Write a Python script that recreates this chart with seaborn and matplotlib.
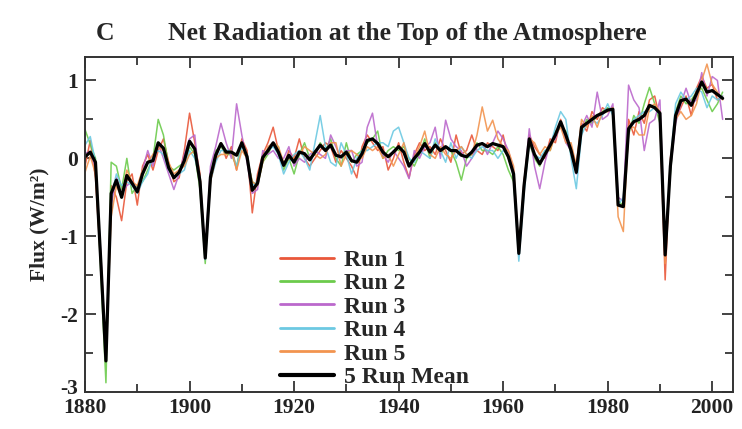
import matplotlib
matplotlib.use("Agg")
import matplotlib.pyplot as plt
from matplotlib.lines import Line2D
from matplotlib.ticker import MultipleLocator
from matplotlib.transforms import ScaledTranslation
import pandas as pd
import seaborn as sns

years = list(range(1880, 2003))

mean_flux = [
    0.02, 0.08, -0.05, -1.30, -2.60, -0.45, -0.28, -0.50, -0.22, -0.32,
    -0.43, -0.20, -0.05, -0.03, 0.20, 0.13, -0.12, -0.25, -0.18, -0.03,
    0.22, 0.12, -0.30, -1.28, -0.24, 0.04, 0.19, 0.08, 0.08, 0.04,
    0.20, 0.02, -0.41, -0.32, 0.01, 0.10, 0.20, 0.08, -0.09, 0.04,
    -0.05, 0.08, 0.06, -0.02, 0.08, 0.17, 0.10, 0.17, 0.04, 0.02,
    0.08, -0.03, -0.05, 0.06, 0.23, 0.25, 0.19, 0.08, 0.02, 0.08,
    0.15, 0.08, -0.10, 0.00, 0.08, 0.19, 0.08, 0.17, 0.10, 0.15,
    0.10, 0.10, 0.04, 0.02, 0.08, 0.17, 0.19, 0.15, 0.19, 0.17,
    0.15, 0.02, -0.20, -1.22, -0.35, 0.25, 0.05, -0.07, 0.05, 0.17,
    0.30, 0.47, 0.30, 0.10, -0.18, 0.40, 0.45, 0.50, 0.55, 0.58,
    0.62, 0.63, -0.60, -0.62, 0.38, 0.47, 0.50, 0.55, 0.68, 0.65,
    0.58, -1.24, -0.10, 0.55, 0.74, 0.76, 0.68, 0.83, 0.98, 0.85,
    0.87, 0.82, 0.77,
]

run1 = [
    -0.10, 0.23, -0.25, -1.35, -2.55, -0.35, -0.50, -0.80, -0.30, -0.20,
    -0.60, -0.10, 0.05, -0.15, 0.10, 0.25, -0.05, -0.30, -0.25, 0.10,
    0.58, 0.20, -0.20, -1.25, -0.30, 0.00, 0.20, 0.00, 0.15, -0.15,
    0.25, 0.10, -0.70, -0.20, 0.05, 0.20, 0.40, 0.10, -0.10, 0.10,
    0.00, 0.25, 0.00, -0.10, 0.00, 0.10, 0.20, 0.15, -0.05, 0.10,
    0.00, -0.10, -0.25, 0.15, 0.30, 0.20, 0.10, 0.15, -0.15, 0.00,
    0.20, -0.05, -0.25, 0.05, 0.20, 0.10, 0.15, 0.05, 0.25, 0.10,
    -0.05, 0.30, 0.05, 0.10, 0.30, 0.10, 0.05, 0.20, 0.15, 0.10,
    0.30, 0.00, -0.20, -1.20, -0.30, 0.30, 0.15, 0.05, 0.00, 0.25,
    0.20, 0.50, 0.25, 0.15, -0.10, 0.45, 0.35, 0.60, 0.50, 0.65,
    0.60, 0.65, -0.60, -0.60, 0.50, 0.30, 0.60, 0.45, 0.75, 0.80,
    0.50, -1.56, 0.00, 0.50, 0.65, 0.80, 0.55, 0.90, 1.05, 0.90,
    0.95, 0.75, 0.80,
]

run2 = [
    0.37, 0.18, 0.00, -1.45, -2.88, -0.05, -0.10, -0.40, 0.00, -0.45,
    -0.35, -0.30, -0.15, 0.00, 0.50, 0.30, -0.10, -0.15, -0.10, -0.05,
    0.15, 0.05, -0.40, -1.35, -0.20, 0.10, 0.15, 0.05, 0.05, -0.10,
    0.20, 0.00, -0.30, -0.35, -0.05, 0.05, 0.20, 0.15, -0.15, 0.00,
    -0.20, 0.05, 0.20, 0.00, 0.05, 0.20, 0.10, 0.25, 0.00, -0.10,
    0.20, -0.05, 0.05, 0.10, 0.20, 0.25, 0.35, 0.00, 0.10, 0.15,
    0.10, 0.15, 0.00, -0.10, 0.05, 0.25, 0.00, 0.20, 0.05, 0.15,
    0.10, -0.05, -0.28, 0.00, 0.05, 0.20, 0.10, 0.10, 0.05, 0.15,
    0.05, -0.15, -0.30, -1.15, -0.40, 0.20, 0.00, -0.10, 0.10, 0.10,
    0.35, 0.40, 0.35, 0.05, -0.15, 0.35, 0.50, 0.45, 0.55, 0.60,
    0.65, 0.60, -0.55, -0.60, 0.30, 0.55, 0.45, 0.70, 0.91, 0.70,
    0.45, -1.10, -0.20, 0.60, 0.80, 0.70, 0.75, 0.85, 0.90, 0.75,
    0.60, 0.70, 0.85,
]

run3 = [
    0.07, 0.08, -0.15, -1.20, -2.50, -0.60, -0.25, -0.45, -0.35, -0.30,
    -0.40, -0.15, 0.10, -0.10, 0.20, 0.00, -0.20, -0.40, -0.20, 0.05,
    0.25, 0.30, -0.35, -1.20, -0.10, 0.15, 0.45, 0.20, 0.00, 0.70,
    0.30, -0.05, -0.45, -0.40, 0.10, 0.05, 0.10, 0.00, 0.00, 0.15,
    -0.10, 0.00, -0.05, 0.05, 0.10, 0.05, 0.00, 0.30, 0.15, 0.00,
    0.10, 0.10, -0.10, -0.05, 0.40, 0.58, 0.15, 0.05, -0.05, 0.10,
    0.00, -0.10, -0.26, 0.10, 0.00, 0.15, 0.20, 0.40, 0.00, 0.49,
    0.25, 0.15, 0.10, -0.10, 0.00, 0.15, 0.20, 0.05, 0.20, 0.35,
    0.25, 0.10, -0.15, -1.25, -0.35, 0.38, -0.10, -0.39, -0.05, 0.20,
    0.25, 0.45, 0.20, 0.10, -0.20, 0.40, 0.55, 0.40, 0.85, 0.50,
    0.55, 0.70, -0.50, -0.55, 0.94, 0.75, 0.65, 0.10, 0.45, 0.50,
    0.75, -1.15, -0.15, 0.45, 0.70, 0.90, 0.70, 0.75, 1.10, 0.80,
    1.05, 1.00, 0.50,
]

run4 = [
    0.17, 0.28, -0.05, -1.25, -2.55, -0.50, -0.20, -0.35, -0.30, -0.35,
    -0.45, -0.30, -0.20, 0.05, 0.10, 0.05, -0.15, -0.25, -0.20, -0.15,
    0.10, 0.00, -0.25, -1.30, -0.30, -0.05, 0.10, 0.10, 0.10, -0.10,
    0.15, 0.05, -0.35, -0.30, 0.00, 0.10, 0.15, 0.05, -0.20, -0.05,
    0.05, 0.10, 0.00, -0.15, 0.20, 0.55, 0.15, -0.05, -0.10, 0.20,
    0.05, -0.20, 0.00, 0.10, 0.10, 0.15, 0.20, 0.20, 0.15, 0.35,
    0.40, 0.20, 0.00, -0.05, 0.10, 0.05, 0.00, 0.25, 0.10, -0.05,
    0.20, 0.00, 0.15, 0.05, 0.00, 0.10, 0.15, 0.10, 0.10, 0.00,
    0.10, 0.05, -0.25, -1.32, -0.45, 0.20, 0.05, 0.00, 0.10, 0.15,
    0.40, 0.60, 0.50, 0.00, -0.39, 0.30, 0.45, 0.50, 0.45, 0.55,
    0.70, 0.55, -0.60, -0.50, 0.35, 0.50, 0.55, 0.60, 0.60, 0.65,
    0.55, -1.20, -0.05, 0.70, 0.85, 0.75, 0.80, 0.90, 0.85, 0.65,
    0.80, 0.75, 0.80,
]

run5 = [
    -0.18, 0.03, -0.20, -1.25, -2.50, -0.75, -0.35, -0.50, -0.15, -0.30,
    -0.35, -0.15, -0.05, 0.05, 0.15, 0.10, -0.05, -0.20, -0.15, -0.10,
    0.05, 0.10, -0.30, -1.25, -0.30, 0.00, 0.05, 0.05, 0.10, -0.15,
    0.10, 0.00, -0.30, -0.35, -0.05, 0.15, 0.20, 0.15, -0.05, 0.00,
    0.00, 0.05, 0.15, 0.10, 0.05, 0.00, 0.05, 0.20, 0.20, -0.10,
    0.05, 0.10, 0.05, 0.00, 0.15, 0.10, 0.15, 0.00, 0.05, -0.10,
    0.05, 0.20, -0.10, 0.00, 0.15, 0.35, 0.05, 0.00, 0.15, 0.05,
    0.00, 0.10, 0.15, 0.05, 0.05, 0.30, 0.66, 0.35, 0.49, 0.25,
    0.15, 0.10, -0.10, -1.20, -0.30, 0.25, 0.20, 0.05, 0.15, 0.10,
    0.30, 0.40, 0.20, 0.20, -0.10, 0.50, 0.40, 0.55, 0.40, 0.60,
    0.60, 0.65, -0.75, -0.94, 0.40, 0.40, 0.30, 0.30, 0.65, 0.70,
    0.60, -1.35, -0.10, 0.50, 0.60, 0.50, 0.55, 0.70, 1.00, 1.21,
    0.95, 0.85, 0.75,
]

run_names = ["Run 1", "Run 2", "Run 3", "Run 4", "Run 5"]
run_colors = ["#e9573a", "#6ccb4c", "#bb68cc", "#6cc9e2", "#f2944f"]
runs = [run1, run2, run3, run4, run5]

frame = pd.DataFrame({
    "Year": years * len(runs),
    "Flux": [v for r in runs for v in r],
    "Run": [name for name in run_names for _ in years],
})

sns.set_theme(style="ticks")
plt.rcParams["font.family"] = ["Liberation Serif", "DejaVu Serif"]
plt.rcParams["font.weight"] = "bold"
plt.rcParams["axes.unicode_minus"] = False

fig = plt.figure(figsize=(7.42, 4.29), dpi=100)
ax = fig.add_axes([0.1146, 0.086, 0.8734, 0.781])

sns.lineplot(data=frame, x="Year", y="Flux", hue="Run", hue_order=run_names,
             palette=dict(zip(run_names, run_colors)), estimator=None,
             linewidth=1.1, alpha=0.9, legend=False, ax=ax)
sns.lineplot(x=years, y=mean_flux, color="black", linewidth=2.3,
             legend=False, ax=ax)

ax.set_xlim(1880, 2004)
ax.set_ylim(-3, 1.3)
ax.xaxis.set_major_locator(MultipleLocator(20))
ax.xaxis.set_minor_locator(MultipleLocator(10))
ax.yaxis.set_major_locator(MultipleLocator(1))
ax.yaxis.set_minor_locator(MultipleLocator(0.5))
ax.tick_params(which="both", direction="in", top=True, right=True,
               colors="#222222", labelsize=15.5, width=1.2)
ax.tick_params(which="major", length=8)
ax.tick_params(which="minor", length=6)
ax.tick_params(axis="x", which="major", pad=4)
ax.tick_params(axis="y", which="major", pad=5)
for lab in ax.get_xticklabels() + ax.get_yticklabels():
    lab.set_fontweight("bold")
# nudge the lowest y label upward so it sits just above the first year label
lift = ScaledTranslation(0, 4 / 72, fig.dpi_scale_trans)
for lab in ax.get_yticklabels():
    if lab.get_text() == "-3":
        lab.set_transform(lab.get_transform() + lift)
for sp in ax.spines.values():
    sp.set_linewidth(1.4)
    sp.set_color("#333333")

ax.set_xlabel("")
ax.set_ylabel("Flux (W/m²)", fontsize=15.5, fontweight="bold", labelpad=8)

handles = [Line2D([], [], color=c, linewidth=2.0) for c in run_colors]
handles.append(Line2D([], [], color="black", linewidth=3.0))
ax.legend(handles, run_names + ["5 Run Mean"], loc="upper left",
          bbox_to_anchor=(0.301, 0.426), frameon=False,
          handlelength=2.3, handletextpad=0.4, labelspacing=0.08,
          borderaxespad=0.0, borderpad=0.0,
          prop={"weight": "bold", "size": 17})

fig.text(0.129, 0.907, "C", fontsize=18.5, fontweight="bold", va="baseline")
fig.text(0.549, 0.907, "Net Radiation at the Top of the Atmosphere",
         fontsize=18.5, fontweight="bold", ha="center", va="baseline")

fig.savefig("out.png", dpi=100, facecolor="white")
